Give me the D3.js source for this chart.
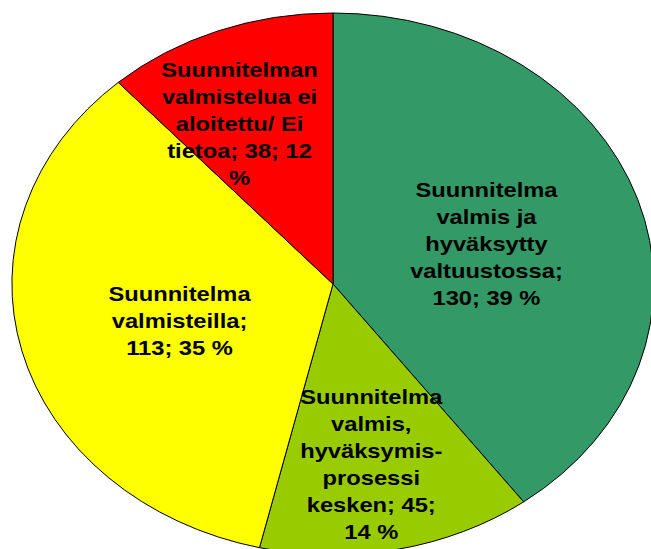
<!DOCTYPE html>
<html>
<head>
<meta charset="utf-8">
<script src="https://cdn.jsdelivr.net/npm/d3@7"></script>
<style>
	html, body { margin: 0; padding: 0; background: #fff; }
	svg { display: block; }
	.slice { stroke: #000; stroke-width: 1; vector-effect: non-scaling-stroke; }
	.lbl { font-family: "Liberation Sans", Arial, sans-serif; font-weight: bold; font-size: 20px; fill: #000; }
</style>
</head>
<body>
<svg id="chart" width="651" height="549"></svg>
<script>
// data
const categories = [
	'Suunnitelma valmis ja hyväksytty valtuustossa',
	'Suunnitelma valmis, hyväksymis-prosessi kesken',
	'Suunnitelma valmisteilla',
	'Suunnitelman valmistelua ei aloitettu/ Ei tietoa'
];
const values = [130, 45, 113, 38];
const percents = ['39 %', '14 %', '35 %', '12 %'];
const labelLines = [
	['Suunnitelma', 'valmis ja', 'hyväksytty', 'valtuustossa;', '130; 39 %'],
	['Suunnitelma', 'valmis,', 'hyväksymis-', 'prosessi', 'kesken; 45;', '14 %'],
	['Suunnitelma', 'valmisteilla;', '113; 35 %'],
	['Suunnitelman', 'valmistelua ei', 'aloitettu/ Ei', 'tietoa; 38; 12', '%']
];
const colors = ['#339966', '#99CC00', '#FFFF00', '#FF0000'];

// layout (pie is stretched horizontally like the original picture)
const cx = 333, cy = 284, rx = 321, ry = 271;
const textStretch = rx / ry;
const lineH = 27;
// label nudges from the slice centroid, px
const nudge = [[1, 2], [6, 48], [2, 3], [-36, -33]];

const svg = d3.select('#chart');

const pie = d3.pie().sort(null).value(d => d)(values);
const arc = d3.arc().innerRadius(0).outerRadius(1);
const labelArc = d3.arc().innerRadius(0.5).outerRadius(0.5);

const gPie = svg.append('g')
	.attr('transform', 'translate(' + cx + ',' + cy + ') scale(' + rx + ',' + ry + ')');

gPie.selectAll('path.slice')
	.data(pie).enter()
	.append('path')
	.attr('class', 'slice')
	.attr('fill', (d, i) => colors[i])
	.attr('d', arc)
	.append('title')
	.text((d, i) => categories[i] + '; ' + values[i] + '; ' + percents[i]);

const gLbls = svg.append('g').attr('class', 'g_labels');

pie.forEach(function(d, i) {
	const c = labelArc.centroid(d);
	const x = cx + c[0] * rx + nudge[i][0],
		y = cy + c[1] * ry + nudge[i][1];
	const lines = labelLines[i];
	const gL = gLbls.append('g')
		.attr('transform', 'translate(' + x + ',' + y + ') scale(' + textStretch.toFixed(3) + ',1)');
	const txt = gL.append('text')
		.attr('class', 'lbl')
		.attr('text-anchor', 'middle');
	lines.forEach(function(line, j) {
		txt.append('tspan')
			.attr('x', 0)
			.attr('y', (j - (lines.length - 1) / 2) * lineH + 7)
			.text(line);
	});
});
</script>
</body>
</html>
